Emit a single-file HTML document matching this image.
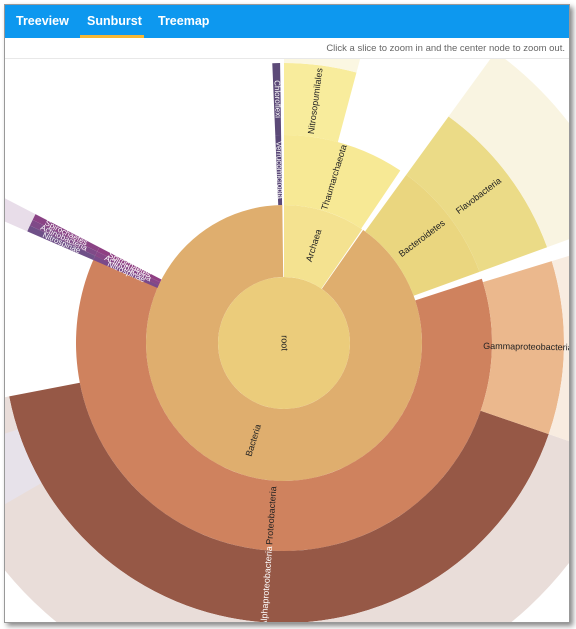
<!DOCTYPE html>
<html><head><meta charset="utf-8"><style>
html,body{margin:0;padding:0;background:#fff;}
body{width:576px;height:629px;position:relative;overflow:hidden;font-family:"Liberation Sans",sans-serif;}
#frame{position:absolute;left:4px;top:4px;width:564px;height:617px;border:1px solid #999;box-shadow:3px 3px 5px #888;overflow:hidden;background:#fff;}
#nav{position:absolute;left:0;top:0;width:564px;height:33px;background:#0d98ef;}
.tab{position:absolute;top:9px;color:#fff;font-weight:bold;font-size:12.5px;}
#under{position:absolute;left:75px;top:30px;width:64px;height:3px;background:#f7b733;}
#hint{position:absolute;right:4px;top:38px;font-size:9.5px;color:#666;}
#line{position:absolute;left:0;top:53px;width:564px;height:1px;background:#e8e8e8;}
svg{position:absolute;left:0;top:54px;}
</style></head><body>
<div id="frame">
<div id="nav">
<span class="tab" style="left:11px">Treeview</span>
<span class="tab" style="left:82px">Sunburst</span>
<span class="tab" style="left:153px">Treemap</span>
<div id="under"></div>
</div>
<div id="hint">Click a slice to zoom in and the center node to zoom out.</div>
<div id="line"></div>
<svg id="chart" width="564" height="563"></svg>
</div>
<script>
// node data: name, depth, start angle (deg), end angle (deg)
const names  = ["root","Bacteria","Archaea","Proteobacteria","Bacteroidetes","Thaumarchaeota","Alphaproteobacteria","Gammaproteobacteria","Flavobacteria","Nitrosopumilales","alpha-children","gamma-children","flavo-children","nitroso-children","lavender-children","Verrucomicrobia","Chloroflexi","Spirochaetes","Actinobacteria","Nitrospinae","Spirochaetes-c","Actinobacteria-c","Nitrospinae-c","purple-children"];
const depths = [0,1,1,2,2,2,3,3,3,3,4,4,4,4,4,2,3,2,2,2,3,3,3,4];
const starts = [0,35,0,72,36,0,109,73,36,0,109,73,36,0,240,357.6,357.6,293.5,294.8,296.1,293.5,294.8,296.1,293.5];
const ends   = [360,359.3,34.5,296,70,34,259,109,70,15,259,109,70,15,252,359.2,359.2,294.8,296.1,297.4,294.8,296.1,297.4,297.4];
const labels = ["root","Bacteria","Archaea","Proteobacteria","Bacteroidetes","Thaumarchaeota","Alphaproteobacteria","Gammaproteobacteria","Flavobacteria","Nitrosopumilales","","","","","","Verrucomicrobia","Chloroflexi","Nitrospinae","Actinobacteria","Spirochaetes","Nitrospinae","Actinobacteria","Spirochaetes",""];
const fills = ["#ebcc7b","#dfae6e","#f4e290","#cf825e","#ead67f","#f7e995","#965846","#ebb88d","#ebdb87","#f8ec9c","#e9ddd9","#f8ece0","#f9f4e1","#fbf7e2","#e7e2ea","#5a4878","#5c4a78","#7a4a8a","#874688","#8f3f83","#6f5088","#7f4a88","#8a4385","#e8dde9"];
const textCol = ["#222","#222","#222","#222","#222","#222","#fff","#222","#222","#222","","","","","","#fff","#fff","#fff","#fff","#fff","#fff","#fff","#fff",""];
const radii = [0,66,138,208,280,360,460];
const cx = 279, cy = 284;
const NS = "http://www.w3.org/2000/svg";
const svg = document.getElementById('chart');
function pt(r,a){const t=(a-90)*Math.PI/180;return [cx+r*Math.cos(t),cy+r*Math.sin(t)];}
function arc(r0,r1,a0,a1){
  if(a1-a0>=359.9){return `M${cx-r1},${cy}A${r1},${r1} 0 1 1 ${cx+r1},${cy}A${r1},${r1} 0 1 1 ${cx-r1},${cy}Z`;}
  const lg=(a1-a0)>180?1:0;const p0=pt(r1,a0),p1=pt(r1,a1),p2=pt(r0,a1),p3=pt(r0,a0);
  return `M${p0}A${r1},${r1} 0 ${lg} 1 ${p1}L${p2}A${r0},${r0} 0 ${lg} 0 ${p3}Z`;
}
for(let i=0;i<names.length;i++){
  const d=depths[i];
  const p=document.createElementNS(NS,'path');
  p.setAttribute('d',arc(radii[d],radii[d+1],starts[i],ends[i]));
  p.setAttribute('fill',fills[i]);
  
  
  svg.appendChild(p);
}
for(let i=0;i<names.length;i++){
  if(!labels[i])continue;
  const d=depths[i];
  const mid=(starts[i]+ends[i])/2;
  const r=d===0?0:(radii[d]+radii[d+1])/2;
  const [x,y]=pt(r,mid);
  const rot=d===0?90:(mid<180?mid-90:mid-270);
  const t=document.createElementNS(NS,'text');
  t.setAttribute('x',x);t.setAttribute('y',y);
  t.setAttribute('transform',`rotate(${rot},${x},${y})`);
  t.setAttribute('text-anchor','middle');t.setAttribute('dominant-baseline','middle');
  t.setAttribute('font-size',(ends[i]-starts[i])<3?'8':'9');
  t.setAttribute('fill',textCol[i]);
  t.setAttribute('font-family','Liberation Sans, sans-serif');
  t.textContent=labels[i];
  
  
  svg.appendChild(t);
}
</script>
</body></html>
